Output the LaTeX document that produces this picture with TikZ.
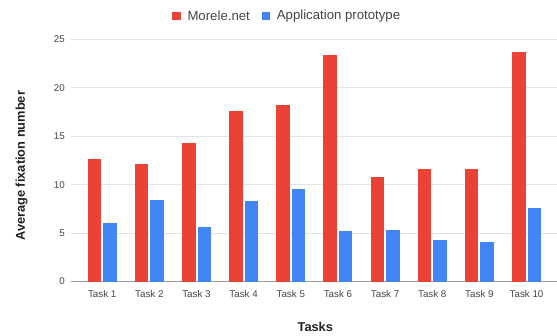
\documentclass[tikz,border=0pt]{standalone}
\usepackage{fontspec}
\setmainfont{Liberation Sans}
\usetikzlibrary{positioning}
\definecolor{morelered}{HTML}{EA4335}
\definecolor{protoblue}{HTML}{4285F4}
\definecolor{gridgray}{HTML}{E3E3E3}
\definecolor{axisgray}{HTML}{9E9E9E}
\definecolor{ticktext}{HTML}{444444}
\tikzset{
  ticklab/.style={text=ticktext, font=\fontsize{9.8}{11}\selectfont, inner sep=0pt},
  axislab/.style={text=black!87, font=\bfseries\fontsize{12.8}{14}\selectfont, inner sep=0pt},
  leglab/.style={text=ticktext, font=\fontsize{13.2}{15}\selectfont, inner sep=0pt, anchor=west},
}
\begin{document}
\begin{tikzpicture}[x=1pt,y=1pt]
\useasboundingbox (0,0) rectangle (557,335);

% legend
\fill[morelered] (172.3,315) rectangle (180.7,323.4);
\node[leglab] (morele) at (187.3,319.3) {Morele.net};
\fill[protoblue] (261.7,315) rectangle (270.1,323.4);
\node[leglab] (proto) at (276.7,319.3) {Application prototype};

\begin{scope}[shift={(0,53.5)}, y=9.68pt]
\draw[gridgray, line width=0.8pt] (71,5) -- (557,5)
  (71,10) -- (557,10)
  (71,15) -- (557,15)
  (71,20) -- (557,20)
  (71,25) -- (557,25);
\draw[axisgray, line width=0.9pt] (71,0) -- (557,0);

\node[ticklab, anchor=east] (y0) at (65,0) {0};
\node[ticklab, anchor=east] (y5) at (65,5) {5};
\node[ticklab, anchor=east] (y10) at (65,10) {10};
\node[ticklab, anchor=east] (y15) at (65,15) {15};
\node[ticklab, anchor=east] (y20) at (65,20) {20};
\node[ticklab, anchor=east] (y25) at (65,25) {25};

% Morele.net
\fill[morelered] (87.7,0) rectangle (101.2,12.7);
\fill[morelered] (134.85,0) rectangle (148.35,12.1);
\fill[morelered] (182.0,0) rectangle (195.5,14.3);
\fill[morelered] (229.15,0) rectangle (242.65,17.6);
\fill[morelered] (276.3,0) rectangle (289.8,18.25);
\fill[morelered] (323.45,0) rectangle (336.95,23.35);
\fill[morelered] (370.6,0) rectangle (384.1,10.8);
\fill[morelered] (417.75,0) rectangle (431.25,11.6);
\fill[morelered] (464.9,0) rectangle (478.4,11.6);
\fill[morelered] (512.05,0) rectangle (525.55,23.7);
% prototype
\fill[protoblue] (103.2,0) rectangle (116.7,6.0);
\fill[protoblue] (150.35,0) rectangle (163.85,8.45);
\fill[protoblue] (197.5,0) rectangle (211.0,5.65);
\fill[protoblue] (244.65,0) rectangle (258.15,8.35);
\fill[protoblue] (291.8,0) rectangle (305.3,9.55);
\fill[protoblue] (338.95,0) rectangle (352.45,5.25);
\fill[protoblue] (386.1,0) rectangle (399.6,5.35);
\fill[protoblue] (433.25,0) rectangle (446.75,4.25);
\fill[protoblue] (480.4,0) rectangle (493.9,4.05);
\fill[protoblue] (527.55,0) rectangle (541.05,7.55);
\end{scope}

\node[ticklab] (t1) at (102.2,41.2) {Task 1};
\node[ticklab] (t2) at (149.35,41.2) {Task 2};
\node[ticklab] (t3) at (196.5,41.2) {Task 3};
\node[ticklab] (t4) at (243.65,41.2) {Task 4};
\node[ticklab] (t5) at (290.8,41.2) {Task 5};
\node[ticklab] (t6) at (337.95,41.2) {Task 6};
\node[ticklab] (t7) at (385.1,41.2) {Task 7};
\node[ticklab] (t8) at (432.25,41.2) {Task 8};
\node[ticklab] (t9) at (479.4,41.2) {Task 9};
\node[ticklab] (t10) at (526.55,41.2) {Task 10};

\node[axislab] (xlab) at (315.3,8.2) {Tasks};
\node[axislab, rotate=90] (ylab) at (21.7,169.2) {Average fixation number};

\end{tikzpicture}
\end{document}
